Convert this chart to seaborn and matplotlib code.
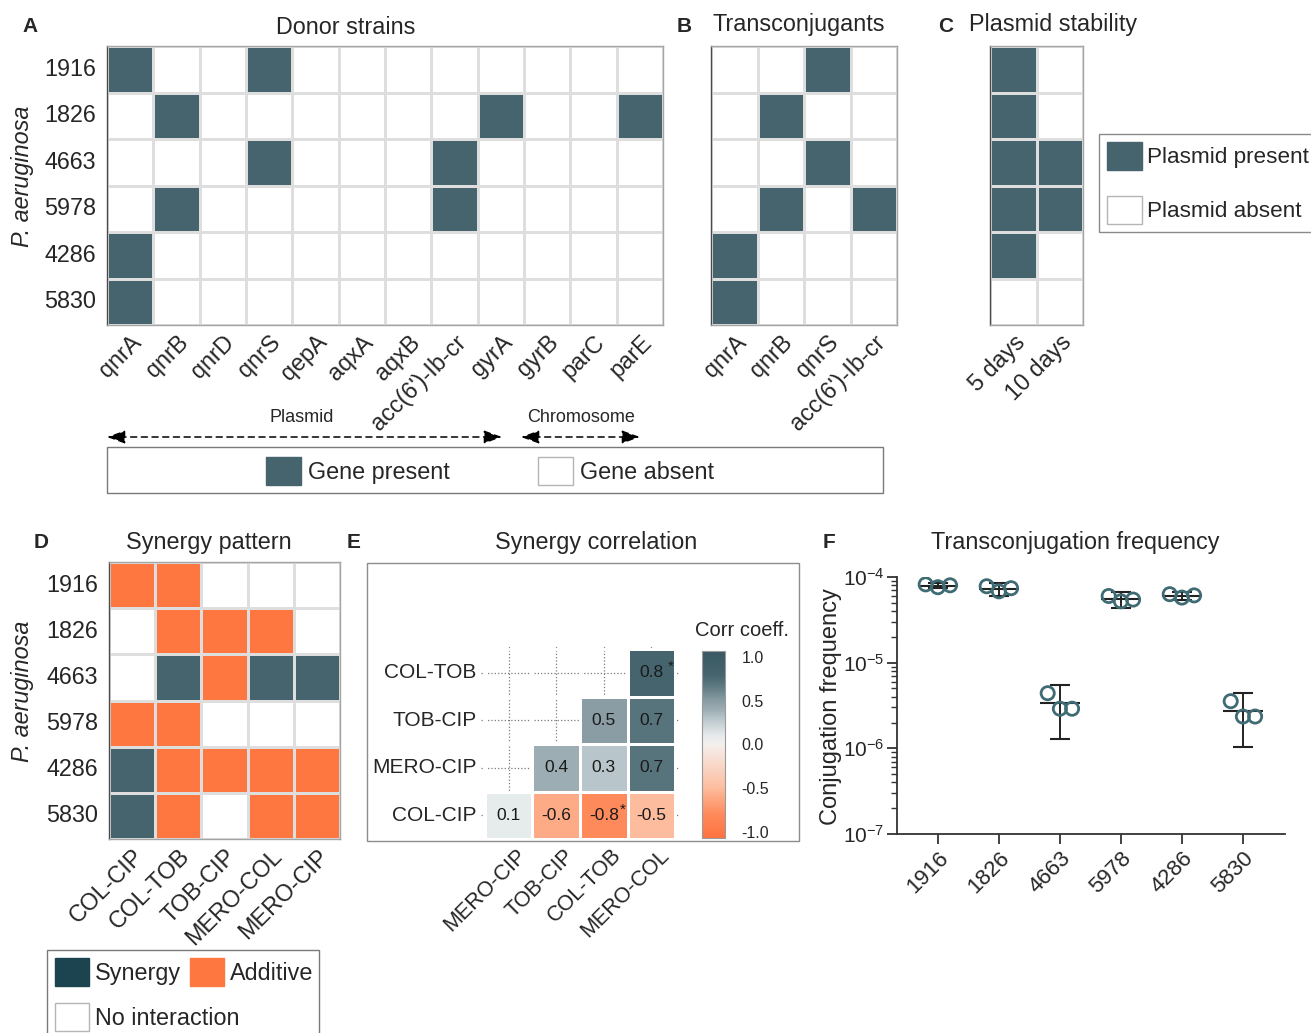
import numpy as np
import pandas as pd
import matplotlib
matplotlib.use("Agg")
import matplotlib.pyplot as plt
import matplotlib.transforms as mtransforms
import seaborn as sns
from matplotlib.colors import ListedColormap, LinearSegmentedColormap
from matplotlib.patches import Patch, Rectangle, FancyArrowPatch
from matplotlib.ticker import LogLocator, LogFormatterSciNotation, NullFormatter, FormatStrFormatter

# ---------------------------------------------------------------- data
strains = ["1916", "1826", "4663", "5978", "4286", "5830"]

donor_genes = ["qnrA", "qnrB", "qnrD", "qnrS", "qepA", "aqxA", "aqxB",
               "acc(6')-Ib-cr", "gyrA", "gyrB", "parC", "parE"]
donor_presence = [
    [1, 0, 0, 1, 0, 0, 0, 0, 0, 0, 0, 0],
    [0, 1, 0, 0, 0, 0, 0, 0, 1, 0, 0, 1],
    [0, 0, 0, 1, 0, 0, 0, 1, 0, 0, 0, 0],
    [0, 1, 0, 0, 0, 0, 0, 1, 0, 0, 0, 0],
    [1, 0, 0, 0, 0, 0, 0, 0, 0, 0, 0, 0],
    [1, 0, 0, 0, 0, 0, 0, 0, 0, 0, 0, 0],
]

trans_genes = ["qnrA", "qnrB", "qnrS", "acc(6')-Ib-cr"]
trans_presence = [
    [0, 0, 1, 0],
    [0, 1, 0, 0],
    [0, 0, 1, 0],
    [0, 1, 0, 1],
    [1, 0, 0, 0],
    [1, 0, 0, 0],
]

stability_days = ["5 days", "10 days"]
stability_presence = [[1, 0], [1, 0], [1, 1], [1, 1], [1, 0], [0, 0]]

combos = ["COL-CIP", "COL-TOB", "TOB-CIP", "MERO-COL", "MERO-CIP"]
# 0 = no interaction, 1 = additive, 2 = synergy
interaction = [
    [1, 1, 0, 0, 0],
    [0, 1, 1, 1, 0],
    [0, 2, 1, 2, 2],
    [1, 1, 0, 0, 0],
    [2, 1, 1, 1, 1],
    [2, 1, 0, 1, 1],
]

corr_rows = ["COL-TOB", "TOB-CIP", "MERO-CIP", "COL-CIP"]
corr_cols = ["MERO-CIP", "TOB-CIP", "COL-TOB", "MERO-COL"]
corr_values = [
    [np.nan, np.nan, np.nan, 0.8],
    [np.nan, np.nan, 0.5, 0.7],
    [np.nan, 0.4, 0.3, 0.7],
    [0.1, -0.6, -0.8, -0.5],
]
corr_significant = [(0, 3), (3, 2)]  # (row, column) of starred cells

freq_replicates = [
    [8.2e-5, 7.6e-5, 8.0e-5],
    [7.8e-5, 6.8e-5, 7.4e-5],
    [4.4e-6, 2.9e-6, 2.9e-6],
    [6.0e-5, 5.2e-5, 5.45e-5],
    [6.3e-5, 5.75e-5, 6.1e-5],
    [3.55e-6, 2.35e-6, 2.35e-6],
]
freq_err_low = [7.45e-5, 5.95e-5, 1.3e-6, 4.35e-5, 5.35e-5, 1.05e-6]
freq_err_high = [8.6e-5, 8.6e-5, 5.45e-6, 6.6e-5, 6.7e-5, 4.45e-6]
replicate_offsets = [-0.2, 0.0, 0.2]

# ---------------------------------------------------------------- style
sns.set_style("white")
plt.rcParams["font.family"] = ["Liberation Sans", "DejaVu Sans"]
plt.rcParams["axes.unicode_minus"] = False
plt.rcParams["mathtext.default"] = "regular"

TEAL = "#46646e"
TEAL_DARK = "#1c4450"
ORANGE = "#fe7640"
GRID = "#dedede"
FS = 16.8

presence_cmap = ListedColormap(["white", TEAL])
interaction_cmap = ListedColormap(["white", ORANGE, TEAL])

# diverging colour ramp for the correlation coefficients (value -> colour)
CORR_LIM = 1.07
corr_nodes = [(-1.07, "#ff7240"), (-0.8, "#fe8a5b"), (-0.6, "#fdaa86"), (-0.5, "#fdbc9e"),
              (0.0, "#f4efed"), (0.1, "#e6ebec"), (0.3, "#b8c5ca"), (0.4, "#9caeb3"),
              (0.5, "#8a9da4"), (0.7, "#57737c"), (0.8, "#46646e"), (1.07, "#385862")]
corr_cmap = LinearSegmentedColormap.from_list(
    "corr", [((v + CORR_LIM) / (2 * CORR_LIM), c) for v, c in corr_nodes])

W, H = 1311, 1033
fig = plt.figure(figsize=(W / 100, H / 100), dpi=100)


def box(x0, y0, x1, y1):
    return [x0 / W, 1 - y1 / H, (x1 - x0) / W, (y1 - y0) / H]


def fx(x):
    return x / W


def fy(y):
    return 1 - y / H


def frame_heatmap(ax):
    for s in ax.spines.values():
        s.set_visible(True)
        s.set_color("#a5a5a5")
        s.set_linewidth(1)
    ax.spines["left"].set_color("#4a4a4a")
    ax.tick_params(length=0)
    ax.set_xlabel("")
    ax.set_ylabel("")


def rotate_xlabels(ax, labels, fs=FS, pad=4):
    ax.set_xticklabels(labels, rotation=45, ha="right", rotation_mode="anchor", fontsize=fs)
    ax.tick_params(axis="x", pad=pad)


# ---------------------------------------------------------------- A: donor strains
axA = fig.add_axes(box(107, 46, 663, 325))
sns.heatmap(pd.DataFrame(donor_presence, index=strains, columns=donor_genes),
            cmap=presence_cmap, vmin=0, vmax=1, cbar=False,
            linewidths=1, linecolor=GRID, ax=axA)
frame_heatmap(axA)
axA.set_yticklabels(strains, rotation=0, fontsize=FS)
axA.tick_params(axis="y", pad=8)
rotate_xlabels(axA, donor_genes)

# ---------------------------------------------------------------- B: transconjugants
axB = fig.add_axes(box(711, 46, 897, 325))
sns.heatmap(pd.DataFrame(trans_presence, index=strains, columns=trans_genes),
            cmap=presence_cmap, vmin=0, vmax=1, cbar=False, yticklabels=False,
            linewidths=1, linecolor=GRID, ax=axB)
frame_heatmap(axB)
rotate_xlabels(axB, trans_genes)

# ---------------------------------------------------------------- C: plasmid stability
axC = fig.add_axes(box(990, 46, 1083, 325))
sns.heatmap(pd.DataFrame(stability_presence, index=strains, columns=stability_days),
            cmap=presence_cmap, vmin=0, vmax=1, cbar=False, yticklabels=False,
            linewidths=1, linecolor=GRID, ax=axC)
frame_heatmap(axC)
rotate_xlabels(axC, stability_days)

# ---------------------------------------------------------------- D: synergy pattern
axD = fig.add_axes(box(109, 562, 340, 839))
sns.heatmap(pd.DataFrame(interaction, index=strains, columns=combos),
            cmap=interaction_cmap, vmin=-0.5, vmax=2.5, cbar=False,
            linewidths=1, linecolor=GRID, ax=axD)
frame_heatmap(axD)
axD.set_yticklabels(strains, rotation=0, fontsize=FS)
axD.tick_params(axis="y", pad=8)
rotate_xlabels(axD, combos)

# ---------------------------------------------------------------- E: synergy correlation
fig.add_artist(Rectangle((fx(367), fy(841)), fx(799) - fx(367), fy(563) - fy(841),
                         transform=fig.transFigure, fill=False,
                         edgecolor="#8c8c8c", linewidth=1))
axE = fig.add_axes(box(481, 645, 679, 840))
caxE = fig.add_axes(box(702, 651, 725, 838))
corr_df = pd.DataFrame(corr_values, index=corr_rows, columns=corr_cols)
sns.heatmap(corr_df, cmap=corr_cmap, vmin=-CORR_LIM, vmax=CORR_LIM, annot=True, fmt=".1f",
            annot_kws={"fontsize": 12.5, "color": "#1a1a1a"},
            linewidths=1, linecolor="white", ax=axE, cbar_ax=caxE,
            cbar_kws={"ticks": [1, 0.5, 0, -0.5, -1]})
axE.set_xlim(-0.084, 4.084)
axE.set_ylim(4.02, -0.084)
axE.set_axisbelow(True)
axE.grid(True, linestyle=":", color="#7a7a7a", linewidth=0.9)
for s in axE.spines.values():
    s.set_visible(False)
axE.set_xlabel("")
axE.set_ylabel("")
axE.set_yticklabels(corr_rows, rotation=0, fontsize=15)
axE.tick_params(axis="y", length=0, pad=3)
axE.tick_params(axis="x", length=4, color="#999999", pad=2)
rotate_xlabels(axE, corr_cols, fs=15.5, pad=1)
shift = mtransforms.ScaledTranslation(7 / 100, 2 / 100, fig.dpi_scale_trans)
for lab in axE.get_xticklabels():
    lab.set_transform(lab.get_transform() + shift)
for r, c in corr_significant:
    axE.annotate("*", (c + 0.5, r + 0.5), xytext=(14, 4), textcoords="offset points",
                 ha="center", va="center", fontsize=11, color="#1a1a1a")
cbar = axE.collections[0].colorbar
cbar.outline.set_linewidth(0.8)
cbar.outline.set_edgecolor("#9a9a9a")
caxE.yaxis.set_major_formatter(FormatStrFormatter("%.1f"))
caxE.tick_params(length=0, labelsize=11.5, pad=12)
fig.text(fx(742), fy(631), "Corr coeff.", ha="center", va="center", fontsize=14.5)

# ---------------------------------------------------------------- F: transconjugation frequency
axF = fig.add_axes(box(897, 577, 1285, 834))
rep = np.array(freq_replicates)
positions = np.arange(len(strains))
points = pd.DataFrame({
    "x": (positions[:, None] + np.array(replicate_offsets)[None, :]).ravel(),
    "freq": rep.ravel(),
})
sns.scatterplot(data=points, x="x", y="freq", ax=axF, s=90, zorder=3, legend=False)
dots = axF.collections[-1]
dots.set_facecolor("none")
dots.set_edgecolor("#3f6b74")
dots.set_linewidth(2)
means = rep.mean(axis=1)
axF.errorbar(positions, means,
             yerr=[means - np.array(freq_err_low), np.array(freq_err_high) - means],
             fmt="_", color="#222222", markersize=29, markeredgewidth=1.5,
             elinewidth=1.4, capsize=7, capthick=1.4, zorder=2)
axF.set_yscale("log")
axF.set_ylim(1e-7, 1e-4)
axF.set_xlim(-0.67, 5.69)
axF.yaxis.set_major_locator(LogLocator(base=10, numticks=10))
axF.yaxis.set_major_formatter(LogFormatterSciNotation())
axF.yaxis.set_minor_locator(LogLocator(base=10, subs=np.arange(2, 10), numticks=20))
axF.yaxis.set_minor_formatter(NullFormatter())
axF.set_xticks(positions)
rotate_xlabels(axF, strains, fs=16, pad=3)
axF.tick_params(axis="y", labelsize=15, pad=2)
axF.tick_params(which="major", length=7, width=1.3, color="#333333", direction="out")
axF.tick_params(which="minor", length=4, width=1, color="#333333", direction="out")
axF.tick_params(axis="x", bottom=True)
axF.tick_params(axis="y", left=True, which="both")
for side in ("top", "right"):
    axF.spines[side].set_visible(False)
for side in ("left", "bottom"):
    axF.spines[side].set_color("#333333")
    axF.spines[side].set_linewidth(1.3)
axF.set_xlabel("")
axF.set_ylabel("")
fig.text(fx(831), fy(707), "Conjugation frequency", rotation=90, ha="center",
         va="center", fontsize=17)

# ---------------------------------------------------------------- titles and panel letters
titles = [("Donor strains", 346, 27), ("Transconjugants", 799, 25),
          ("Plasmid stability", 1053, 25), ("Synergy pattern", 209, 542),
          ("Synergy correlation", 596, 542), ("Transconjugation frequency", 1075, 542)]
for txt, x, y in titles:
    fig.text(fx(x), fy(y), txt, ha="center", va="center", fontsize=FS)
letters = [("A", 30, 27), ("B", 684, 27), ("C", 946, 27),
           ("D", 41, 543), ("E", 354, 543), ("F", 829, 543)]
for txt, x, y in letters:
    fig.text(fx(x), fy(y), txt, ha="center", va="center", fontsize=15, fontweight="bold")
for y in (176, 691):
    fig.text(fx(22), fy(y), "P. aeruginosa", rotation=90, ha="center", va="center",
             fontsize=FS, fontstyle="italic")

# ---------------------------------------------------------------- gene location arrows
for (x0, x1, label, xl) in [(107, 502, "Plasmid", 302), (521, 640, "Chromosome", 581)]:
    fig.add_artist(FancyArrowPatch((fx(x0), fy(437)), (fx(x1), fy(437)),
                                   transform=fig.transFigure,
                                   arrowstyle="<|-|>,head_length=0.55,head_width=0.2",
                                   mutation_scale=20, linestyle=(0, (4, 3)),
                                   color="black", linewidth=1.1,
                                   shrinkA=0, shrinkB=0))
    fig.text(fx(xl), fy(418), label, ha="center", va="center", fontsize=13)

# ---------------------------------------------------------------- legends
fig.add_artist(Rectangle((fx(107), fy(493)), fx(883) - fx(107), fy(447) - fy(493),
                         transform=fig.transFigure, fill=False,
                         edgecolor="#7a7a7a", linewidth=1))
fig.legend(handles=[Patch(facecolor=TEAL, edgecolor=TEAL),
                    Patch(facecolor="white", edgecolor="#b5b5b5")],
           labels=["Gene present", "Gene absent"], ncol=2, loc="center left",
           bbox_to_anchor=(fx(266), fy(471)), frameon=False, fontsize=FS,
           handlelength=1.5, handleheight=1.5, handletextpad=0.3,
           columnspacing=3.8, borderpad=0, borderaxespad=0)

fig.legend(handles=[Patch(facecolor=TEAL, edgecolor=TEAL),
                    Patch(facecolor="white", edgecolor="#b5b5b5")],
           labels=["Plasmid present", "Plasmid absent"], loc="upper left",
           bbox_to_anchor=(fx(1099), fy(134)), frameon=True, fancybox=False,
           edgecolor="#8a8a8a", framealpha=1, fontsize=16.2,
           handlelength=1.55, handleheight=1.55, handletextpad=0.25,
           labelspacing=1.15, borderpad=0.35, borderaxespad=0)

fig.add_artist(Rectangle((fx(47), fy(1040)), fx(319) - fx(47), fy(950) - fy(1040),
                         transform=fig.transFigure, fill=False,
                         edgecolor="#7a7a7a", linewidth=1))
fig.legend(handles=[Patch(facecolor=TEAL_DARK, edgecolor=TEAL_DARK),
                    Patch(facecolor=ORANGE, edgecolor=ORANGE)],
           labels=["Synergy", "Additive"], ncol=2, loc="center left",
           bbox_to_anchor=(fx(55), fy(972)), frameon=False, fontsize=FS,
           handlelength=1.45, handleheight=1.45, handletextpad=0.25,
           columnspacing=0.4, borderpad=0, borderaxespad=0)
fig.legend(handles=[Patch(facecolor="white", edgecolor="#b5b5b5")],
           labels=["No interaction"], loc="center left",
           bbox_to_anchor=(fx(55), fy(1017)), frameon=False, fontsize=FS,
           handlelength=1.45, handleheight=1.45, handletextpad=0.25,
           borderpad=0, borderaxespad=0)

fig.savefig("out.png", dpi=100)
